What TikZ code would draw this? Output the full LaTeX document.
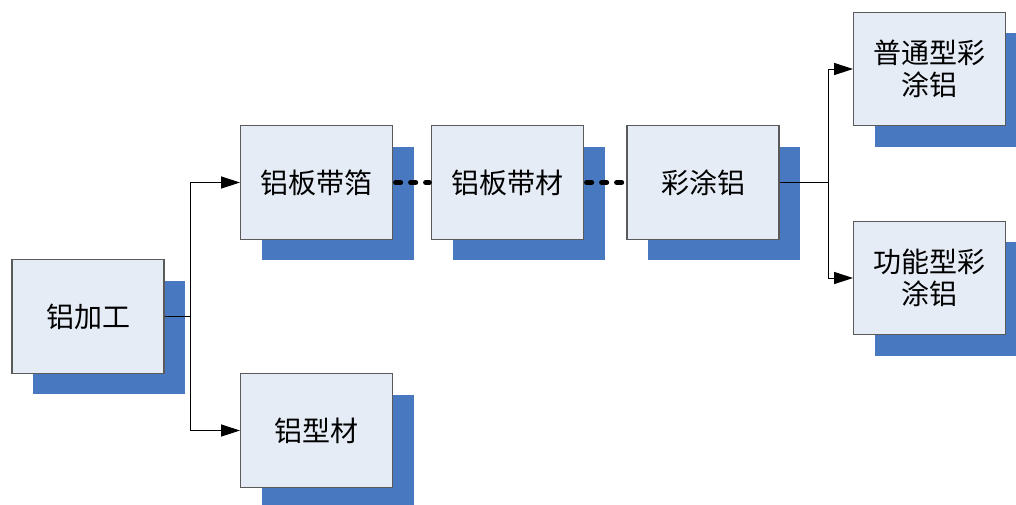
\documentclass[tikz,border=0pt]{standalone}
\usepackage{fontspec}
\setmainfont{Noto Sans CJK SC}
\usetikzlibrary{arrows.meta,shadows}
\definecolor{boxfill}{HTML}{E6ECF6}
\definecolor{boxline}{HTML}{5A5A5A}
\definecolor{shade}{HTML}{4878C0}
\begin{document}
\begin{tikzpicture}[x=0.75pt,y=-0.75pt,
  box/.style={draw=boxline, line width=0.9pt, fill=boxfill,
    minimum width=114pt, minimum height=85pt, inner sep=0pt, align=center,
    font=\fontsize{21}{24}\selectfont,
    general shadow={fill=shade, shadow xshift=15.75pt, shadow yshift=-15.75pt}},
  conn/.style={line width=0.75pt, -{Triangle[length=14pt,width=9pt]}},
  dotline/.style={line width=3.8pt, line cap=round, dash pattern=on 3.75pt off 7.5pt}]
\useasboundingbox (0,0) rectangle (1016,504);
\fill[white] (0,0) rectangle (1016,504);
\node[box] (jg)  at (88,316.5)   {铝加工};
\node[box] (bdb) at (316.5,182.5) {铝板带箔};
\node[box] (xc)  at (316.5,430.5) {铝型材};
\node[box] (bdc) at (507.5,182.5) {铝板带材};
\node[box] (ctl) at (703,182.5)   {彩涂铝};
\node[box] (pt)  at (929.5,69)    {普通型彩\\涂铝};
\node[box] (gn)  at (929.5,278)   {功能型彩\\涂铝};
\coordinate (j1) at (190.5,316.5);
\coordinate (j2) at (828,182.5);
\draw[conn] (jg.east) -- (j1) |- (bdb.west);
\draw[conn] (jg.east) -- (j1) |- (xc.west);
\draw[conn] (ctl.east) -- (j2) |- (pt.west);
\draw[conn] (ctl.east) -- (j2) |- (gn.west);
\draw[dotline] ([xshift=1.9pt]bdb.east) -- ([xshift=-1.2pt]bdc.west);
\draw[dotline] ([xshift=1.9pt]bdc.east) -- ([xshift=-1.2pt]ctl.west);
\end{tikzpicture}
\end{document}
